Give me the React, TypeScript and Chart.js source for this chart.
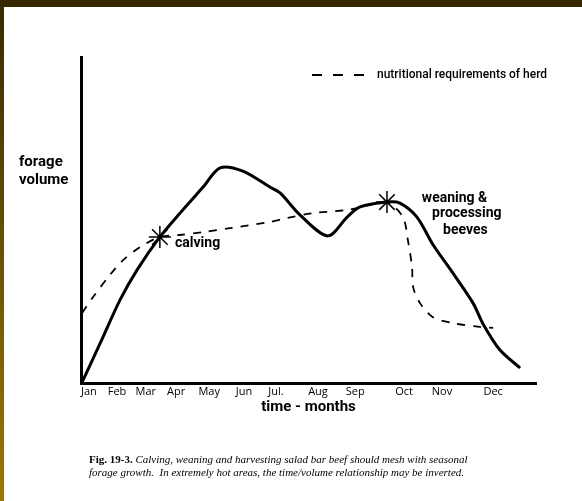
import React, { useEffect, useRef } from "react";
import { Chart, registerables } from "chart.js";

Chart.register(...registerables);

// ---- data (x in month-scale units along the axis, y in % of axis height) ----
const monthLabels = ["Jan", "Feb", "Mar", "Apr", "May", "Jun", "Jul.", "Aug", "Sep", "Oct", "Nov", "Dec"];
const monthTickPos = [0.21, 0.95, 1.71, 2.51, 3.38, 4.3, 5.14, 6.25, 7.23, 8.52, 9.52, 10.87];

const forageX = [0.02, 0.58, 1.03, 1.48, 2.08, 2.61, 3.22, 3.67, 4.27, 4.98, 5.25, 5.78, 6.51, 7.02, 7.36, 8.07, 8.41, 8.86, 9.28, 9.81, 10.34, 10.6, 11.05, 11.58];
const forageY = [0, 14.1, 25.5, 34.7, 44.8, 52.1, 60.1, 66.0, 65.0, 60.1, 58.3, 51.5, 45.1, 50.9, 54.0, 55.5, 55.2, 50.9, 42.5, 33.7, 24.5, 18.2, 10.1, 4.6];

const needX = [0.03, 0.32, 0.76, 1.11, 1.56, 2.08, 2.61, 3.22, 3.93, 4.98, 5.43, 6.12, 7.02, 7.62, 8.07, 8.49, 8.62, 8.73, 8.76, 8.94, 9.28, 9.81, 10.52, 10.87];
const needY = [21.5, 26.4, 33.1, 37.7, 41.7, 44.8, 45.4, 46.3, 47.5, 49.4, 50.6, 52.1, 53.1, 54.6, 55.5, 50.9, 43.9, 35.6, 29.4, 24.5, 20.2, 18.4, 17.2, 16.9];

const markerX = [2.08, 8.07];
const markerY = [44.8, 55.5];

const legendLabel = "nutritional requirements of herd";
const yTitleLines = ["forage", "volume"];
const xTitle = "time - months";
const captionBold = "Fig. 19-3.";
const captionLine1 = " Calving, weaning and harvesting salad bar beef should mesh with seasonal";
const captionLine2 = "forage growth.  In extremely hot areas, the time/volume relationship may be inverted.";

const BOLD_SANS = "Roboto, 'DejaVu Sans', sans-serif";

const toPts = (xs: number[], ys: number[]) => xs.map((x, i) => ({ x, y: ys[i] }));

const framePlugin = {
  id: "frame",
  beforeDraw(chart: any) {
    const { ctx, width, height } = chart;
    ctx.save();
    ctx.fillStyle = "#ffffff";
    ctx.fillRect(0, 0, width, height);
    const g = ctx.createLinearGradient(0, 0, 0, height);
    g.addColorStop(0, "#372a00");
    g.addColorStop(1, "#9c7800");
    ctx.fillStyle = g;
    ctx.fillRect(0, 0, 4, height);
    ctx.fillStyle = "#352800";
    ctx.fillRect(0, 0, width, 7);
    ctx.restore();
  },
};

const annotationPlugin = {
  id: "annotations",
  afterDraw(chart: any) {
    const { ctx, chartArea } = chart;
    const xs = chart.scales.x;
    const ys = chart.scales.y;
    ctx.save();
    ctx.fillStyle = "#000";
    ctx.textBaseline = "middle";

    // in-plot labels
    ctx.font = `bold 14px ${BOLD_SANS}`;
    ctx.textAlign = "left";
    ctx.fillText("calving", xs.getPixelForValue(2.48), ys.getPixelForValue(42.9));
    ctx.fillText("weaning &", xs.getPixelForValue(8.99), ys.getPixelForValue(56.7));
    ctx.fillText("processing", xs.getPixelForValue(9.26), ys.getPixelForValue(52.1));
    ctx.fillText("beeves", xs.getPixelForValue(9.55), ys.getPixelForValue(46.9));

    // y title (horizontal, left of axis)
    ctx.font = `bold 15px ${BOLD_SANS}`;
    ctx.fillText(yTitleLines[0], chartArea.left - 62, 162);
    ctx.fillText(yTitleLines[1], chartArea.left - 62, 180);

    // legend
    ctx.strokeStyle = "#000";
    ctx.lineWidth = 2;
    ctx.setLineDash([10, 11]);
    ctx.beginPath();
    ctx.moveTo(312, 75);
    ctx.lineTo(366, 75);
    ctx.stroke();
    ctx.setLineDash([]);
    ctx.font = `500 12px ${BOLD_SANS}`;
    ctx.fillText(legendLabel, 377, 75);

    // caption
    ctx.font = "bold 11px 'Liberation Serif', serif";
    ctx.fillText(captionBold, 89, 460);
    const w = ctx.measureText(captionBold).width;
    ctx.font = "italic 11px 'Liberation Serif', serif";
    ctx.fillText(captionLine1, 89 + w, 460);
    ctx.fillText(captionLine2, 89, 473);

    ctx.restore();
  },
};

export default function App() {
  const ref = useRef<HTMLCanvasElement>(null);

  useEffect(() => {
    document.body.style.margin = "0";
    if (!ref.current) return;
    const chart = new Chart(ref.current, {
      type: "line",
      data: {
        datasets: [
          {
            label: "forage volume",
            data: toPts(forageX, forageY),
            borderColor: "#000",
            borderWidth: 3,
            pointRadius: 0,
            tension: 0.3,
            fill: false,
          },
          {
            label: legendLabel,
            data: toPts(needX, needY),
            borderColor: "#000",
            borderWidth: 1.8,
            borderDash: [8, 8],
            pointRadius: 0,
            tension: 0.3,
            fill: false,
          },
          {
            type: "scatter",
            label: "events",
            data: toPts(markerX, markerY),
            borderColor: "#000",
            backgroundColor: "#000",
            pointStyle: "star",
            pointRadius: 11,
            pointBorderWidth: 1.5,
            showLine: false,
          } as any,
        ],
      },
      options: {
        animation: false,
        responsive: false,
        events: [],
        layout: { padding: { left: 81, top: 57, right: 46, bottom: 86 } },
        plugins: { legend: { display: false }, tooltip: { enabled: false } },
        scales: {
          x: {
            type: "linear",
            min: 0,
            max: 12,
            grid: { display: false, drawTicks: false },
            border: { display: true, color: "#000", width: 3 },
            afterBuildTicks: (scale: any) => {
              scale.ticks = monthTickPos.map((v) => ({ value: v }));
            },
            ticks: {
              autoSkip: false,
              maxRotation: 0,
              padding: 3,
              color: "#000",
              font: { size: 11, family: "'Open Sans', sans-serif", lineHeight: 1 },
              callback: (_v: any, i: number) => monthLabels[i],
            },
            title: {
              display: true,
              text: xTitle,
              color: "#000",
              padding: { top: 0, bottom: 0 },
              font: { size: 15, weight: "bold", family: BOLD_SANS, lineHeight: 1 },
            },
          },
          y: {
            type: "linear",
            min: 0,
            max: 100,
            grid: { display: false, drawTicks: false },
            border: { display: true, color: "#000", width: 3 },
            ticks: { display: false },
          },
        },
      },
      plugins: [framePlugin, annotationPlugin],
    } as any);
    return () => chart.destroy();
  }, []);

  return <canvas ref={ref} width={582} height={501} style={{ display: "block" }} />;
}
